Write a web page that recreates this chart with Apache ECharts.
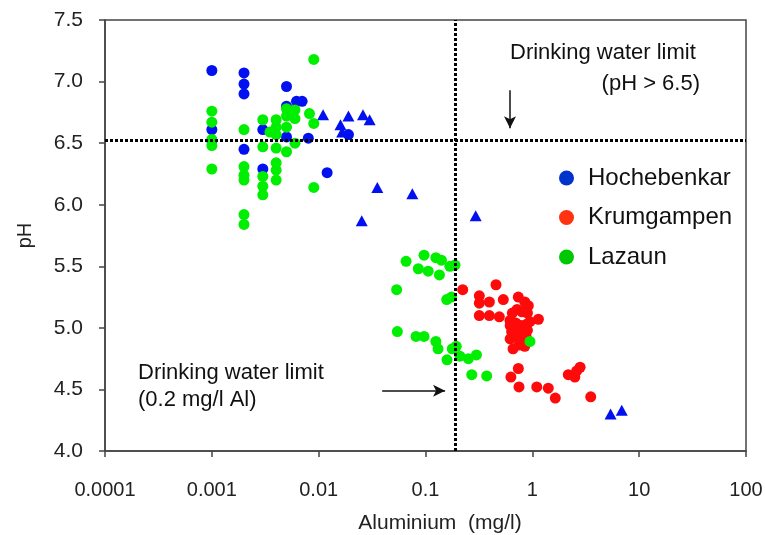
<!DOCTYPE html>
<html>
<head>
<meta charset="utf-8">
<script src="https://cdn.jsdelivr.net/npm/echarts@6/dist/echarts.min.js"></script>
<style>html,body{margin:0;padding:0;background:#fff}#c{width:765px;height:535px}</style>
</head>
<body>
<div id="c"></div>
<script>
// ---- data (Aluminium mg/l, pH) ----
var seriesNames = ['Hochebenkar', 'Krumgampen', 'Lazaun'];
var xTickValues = [0.0001, 0.001, 0.01, 0.1, 1, 10, 100];
var yTickLabels = ['4.0','4.5','5.0','5.5','6.0','6.5','7.0','7.5'];

var hochebenkarCircles = [
  [0.001,7.09],[0.002,7.07],[0.002,6.98],[0.002,6.90],[0.005,6.96],[0.0062,6.84],[0.007,6.84],
  [0.005,6.80],[0.001,6.61],[0.001,6.52],[0.002,6.45],[0.003,6.61],[0.003,6.29],[0.005,6.55],
  [0.008,6.54],[0.019,6.57],[0.012,6.26]
];
var hochebenkarTriangles = [
  [0.011,6.73],[0.019,6.72],[0.026,6.73],[0.030,6.69],[0.016,6.65],[0.0166,6.59],[0.0354,6.14],
  [0.0753,6.09],[0.0253,5.87],[0.295,5.91],[5.4,4.30],[6.87,4.33]
];
var krumgampen = [
  [0.223,5.31],[0.457,5.35],[0.319,5.26],[0.396,5.21],[0.319,5.20],[0.535,5.23],[0.739,5.25],[0.917,5.18],[0.85,5.21],
  [0.319,5.10],[0.396,5.10],[0.491,5.09],[0.618,5.06],[1.14,5.07],
  [0.65,5.12],[0.72,5.15],[0.8,5.13],[0.9,5.12],
  [0.62,5.02],[0.7,5.04],[0.78,5.02],[0.88,5.03],[0.95,5.05],
  [0.64,4.97],[0.72,4.99],[0.8,4.96],[0.9,4.98],
  [0.62,4.91],[0.7,4.93],[0.78,4.90],[0.88,4.92],
  [0.66,4.83],[0.75,4.86],[0.85,4.85],
  [0.74,4.67],[0.63,4.60],[0.75,4.52],[1.1,4.52],[1.41,4.51],[1.64,4.43],[2.17,4.62],[2.5,4.60],[2.8,4.68],[2.6,4.65],[3.52,4.44]
];
var lazaun = [
  [0.009,7.18],[0.001,6.76],[0.001,6.67],[0.001,6.53],[0.001,6.48],[0.001,6.29],[0.002,6.61],[0.002,6.31],
  [0.002,6.24],[0.002,6.20],[0.002,5.92],[0.002,5.84],[0.003,6.69],[0.003,6.47],[0.003,6.23],[0.003,6.15],
  [0.003,6.08],[0.004,6.69],[0.004,6.63],[0.004,6.57],[0.004,6.46],[0.004,6.34],[0.004,6.28],[0.004,6.20],
  [0.005,6.78],[0.005,6.72],[0.005,6.63],[0.005,6.43],[0.006,6.77],[0.006,6.70],[0.006,6.50],[0.0082,6.74],
  [0.009,6.66],[0.009,6.14],[0.0035,6.59],
  [0.0658,5.54],[0.0969,5.59],[0.125,5.57],[0.141,5.55],[0.0857,5.48],[0.106,5.46],[0.135,5.43],[0.169,5.50],
  [0.189,5.51],[0.0537,5.31],[0.158,5.23],[0.175,5.25],[0.0545,4.97],[0.0815,4.93],[0.0969,4.93],[0.125,4.89],
  [0.131,4.83],[0.178,4.83],[0.194,4.85],[0.159,4.74],[0.21,4.77],[0.252,4.75],[0.30,4.78],[0.271,4.62],
  [0.374,4.61],[0.95,4.89]
];
var limitAl = 0.19;   // vertical limit line
var limitPH = 6.52;   // horizontal limit line
var arrowTop = [[0.618,6.93],[0.618,6.62]];
var arrowBottom = [[0.0393,4.49],[0.1525,4.49]];

// ---- chart ----
var FONT = '"Liberation Sans", Arial, sans-serif';
var chart = echarts.init(document.getElementById('c'), null, {renderer:'canvas'});

var hochData = hochebenkarCircles.map(function(p){return {value:p};})
  .concat(hochebenkarTriangles.map(function(p){return {value:p, symbol:'triangle', symbolSize:[12,11]};}));

var option = {
  animation: false,
  backgroundColor: '#fff',
  grid: {left:105, top:20, right:19, bottom:84, containLabel:false, outerBoundsMode:'none',
    show:true, borderColor:'#444', borderWidth:1.5, backgroundColor:'transparent'},
  xAxis: {
    type:'log', logBase:10, min:xTickValues[0], max:xTickValues[xTickValues.length-1],
    splitLine:{show:false}, minorTick:{show:false},
    axisLine:{lineStyle:{color:'#444', width:1.5}},
    axisTick:{show:true, inside:false, length:6, lineStyle:{color:'#444', width:1.5}},
    axisLabel:{color:'#222', fontSize:20, fontFamily:FONT, margin:29,
      formatter:function(v){ return String(Number(Number(v).toPrecision(1))); }},
    name:'Aluminium  (mg/l)', nameLocation:'middle', nameGap:62,
    nameTextStyle:{color:'#222', fontSize:21, fontFamily:FONT, padding:[0,0,0,29]}
  },
  yAxis: {
    type:'value', min:4, max:7.5, interval:0.5,
    splitLine:{show:false},
    axisLine:{show:true, lineStyle:{color:'#444', width:1.5}},
    axisTick:{show:true, inside:false, length:6, lineStyle:{color:'#444', width:1.5}},
    axisLabel:{color:'#222', fontSize:21, fontFamily:FONT, margin:22,
      formatter:function(v){ return yTickLabels[Math.round((v-4)/0.5)]; }},
    name:'pH', nameLocation:'middle', nameGap:70, nameRotate:90,
    nameTextStyle:{color:'#222', fontSize:20, fontFamily:FONT}
  },
  legend: {
    orient:'vertical', left:554, top:160, icon:'circle', itemWidth:15, itemHeight:15, itemGap:13.5,
    textStyle:{fontSize:24, lineHeight:26, fontFamily:FONT, color:'#111', padding:[0,0,0,9]},
    data:[
      {name:seriesNames[0], itemStyle:{color:'#0033cc'}},
      {name:seriesNames[1], itemStyle:{color:'#ff3311'}},
      {name:seriesNames[2], itemStyle:{color:'#00c800'}}
    ],
    selectedMode:false
  },
  series: [
    {name:'limits', type:'line', data:[], silent:true,
      markLine:{silent:true, symbol:['none','none'], label:{show:false},
        lineStyle:{color:'#000', width:3, type:[3,2]},
        data:[{xAxis:limitAl},{yAxis:limitPH}]}},
    {name:'arrows', type:'line', data:[], silent:true,
      markLine:{silent:true, symbol:['none','arrow'], symbolSize:[9,12], label:{show:false},
        lineStyle:{color:'#111', width:1.5, type:'solid'},
        data:[
          [{coord:arrowTop[0]},{coord:arrowTop[1]}],
          [{coord:arrowBottom[0]},{coord:arrowBottom[1]}]
        ]}},
    {name:seriesNames[0], type:'scatter', symbol:'circle', symbolSize:11, itemStyle:{color:'#0010f0', opacity:1}, data:hochData},
    {name:seriesNames[1], type:'scatter', symbol:'circle', symbolSize:11, itemStyle:{color:'#ff0a0a', opacity:1}, data:krumgampen},
    {name:seriesNames[2], type:'scatter', symbol:'circle', symbolSize:11, itemStyle:{color:'#00ee00', opacity:1}, data:lazaun}
  ],
  graphic: [
    {type:'text', left:510, top:42, style:{text:'Drinking water limit', fontSize:22, fontFamily:FONT, fill:'#111'}},
    {type:'text', right:65, top:73, style:{text:'(pH > 6.5)', fontSize:22, fontFamily:FONT, fill:'#111'}},
    {type:'text', left:138, top:362, style:{text:'Drinking water limit', fontSize:22, fontFamily:FONT, fill:'#111'}},
    {type:'text', left:138, top:389, style:{text:'(0.2 mg/l Al)', fontSize:22, fontFamily:FONT, fill:'#111'}}
  ]
};
chart.setOption(option);
</script>
</body>
</html>
